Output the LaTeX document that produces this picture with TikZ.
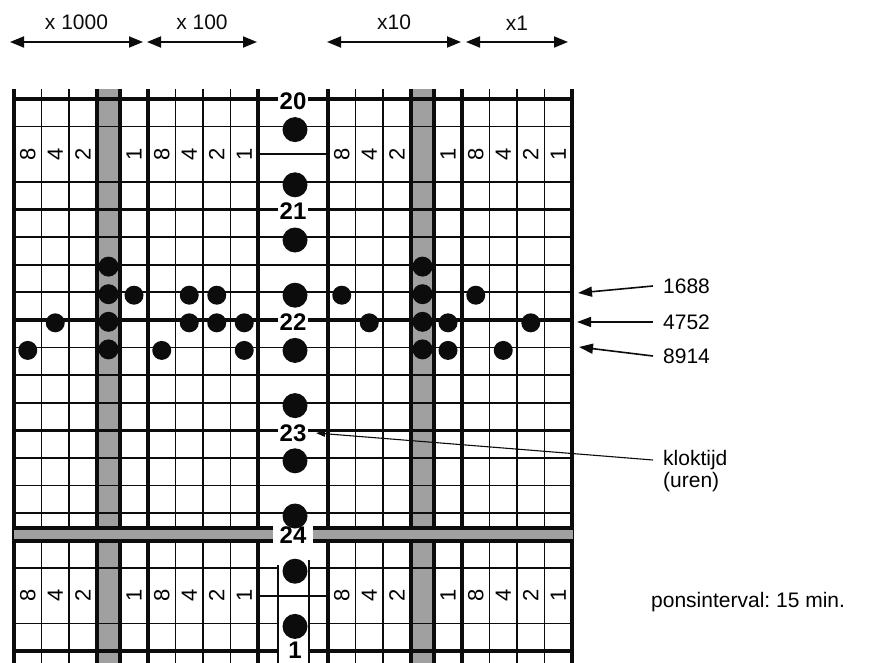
\documentclass[tikz,border=0pt]{standalone}
\usepackage{fontspec}
\setmainfont{Liberation Sans}
\frenchspacing
\usetikzlibrary{arrows.meta, positioning, calc}
\definecolor{ink}{RGB}{12,12,12}
\definecolor{stripgray}{RGB}{160,160,160}
\tikzset{
  rule/.style={line width=1.8pt, color=ink},
  heavyrule/.style={line width=3.4pt, color=ink},
  strip/.style={fill=stripgray},
  hole/.style={circle, fill=ink, inner sep=0pt, minimum size=19pt},
  feedhole/.style={circle, fill=ink, inner sep=0pt, minimum size=20pt},
  clockhole/.style={circle, fill=ink, inner sep=0pt, minimum size=25pt},
  bitlabel/.style={font=\fontsize{22}{22}\selectfont, rotate=90, inner sep=0pt},
  hourlabel/.style={font=\fontsize{24}{24}\selectfont\bfseries, fill=white,
    inner xsep=2pt, inner ysep=1pt},
  sidelabel/.style={font=\fontsize{21}{25}\selectfont, anchor=west,
    inner xsep=10pt, inner ysep=0pt},
  rangelabel/.style={font=\fontsize{21}{25}\selectfont, inner sep=0pt},
  rangearrow/.style={{Triangle[length=14pt, width=11pt]}-{Triangle[length=14pt, width=11pt]},
    line width=1.8pt, color=ink},
  arrow/.style={-{Triangle[length=14pt, width=10pt]}, line width=1.6pt, color=ink},
  thinarrow/.style={-{Triangle[length=9pt, width=6pt]}, line width=1.1pt, color=ink}
}

\begin{document}
\begin{tikzpicture}[x=1pt, y=-1pt]
  \useasboundingbox (0,0) rectangle (877,663);
  % Decade ranges above the tapes
  \coordinate (thA) at (10,42);  \coordinate (thB) at (143,42);
  \coordinate (huA) at (147,42); \coordinate (huB) at (257,42);
  \coordinate (teA) at (327,42); \coordinate (teB) at (461,42);
  \coordinate (unA) at (466,42); \coordinate (unB) at (568,42);
  \draw[rangearrow] (thA) -- (thB) node[midway, above=11pt, rangelabel] (lth) {x 1000};
  \draw[rangearrow] (huA) -- (huB) node[midway, above=11pt, rangelabel] (lhu) {x 100};
  \draw[rangearrow] (teA) -- (teB) node[midway, above=11pt, rangelabel] (lte) {x10};
  \draw[rangearrow] (unA) -- (unB) node[midway, above=11pt, rangelabel] (lun) {x1};
  % Vertical rulings and feed strips of both tapes
  \foreach \ox in {14,328}{
    \fill[strip] (\ox+83,89) rectangle (\ox+106,663);
    \foreach \dx in {27.5,55,161.5,189,216.5}
      \draw[rule] (\ox+\dx,89) -- (\ox+\dx,663);
    \foreach \dx in {0,83,106,134,244}
      \draw[heavyrule] (\ox+\dx,89) -- (\ox+\dx,663);
  }
  % Horizontal rulings (row k at y = 99 + 27.6k)
  \foreach \k in {1,3,5,6,7,9,10,11,13,14,15}
    \draw[rule] (14,{99+27.6*\k}) -- (573,{99+27.6*\k});
  \foreach \k in {0,4,8,12}
    \draw[heavyrule] (14,{99+27.6*\k}) -- (573,{99+27.6*\k});
  \foreach \k in {2,18}
    \draw[rule] (258,{99+27.6*\k}) -- (328,{99+27.6*\k});
  % Splice channel at the bottom
  \draw[rule] (278,565) -- (278,663);
  \draw[rule] (309,560) -- (309,663);
  \foreach \k in {17,19}{
    \draw[rule] (14,{99+27.6*\k}) -- (278,{99+27.6*\k});
    \draw[rule] (309,{99+27.6*\k}) -- (573,{99+27.6*\k});
  }
  \draw[heavyrule] (14,651) -- (278,651);
  \draw[heavyrule] (309,651) -- (573,651);
  % Day strip
  \foreach \xa/\xb in {14/273, 313/573}{
    \fill[strip] (\xa,528) rectangle (\xb,541);
    \draw[heavyrule] (\xa,528) -- (\xb,528);
    \draw[heavyrule] (\xa,541) -- (\xb,541);
  }
  % Bit weights
  \foreach \ox in {14,328}
    \foreach \yk/\r in {154.2/t, 595.8/b}
      \foreach \dx/\b [count=\i] in {13.75/8, 41.25/4, 69/2, 120/1,
                                     147.75/8, 175.25/4, 202.75/2, 230.25/1}
        \node[bitlabel] (bit\r\ox\i) at (\ox+\dx,\yk) {\b};
  % Clock hours
  \node[hourlabel] (h20) at (293,101) {20};
  \node[hourlabel] (h21) at (293,211) {21};
  \node[hourlabel] (h22) at (293,322) {22};
  \node[hourlabel] (h23) at (293,433) {23};
  \node[hourlabel, fill=none] (h24) at (293,535) {24};
  \node[hourlabel, fill=none] (h1) at (295,650) {1};
  \foreach \k in {1,3,...,19}
    \node[clockhole] (c\k) at (295,{99+27.6*\k+3}) {};
  % Feed holes
  \foreach \ox/\t in {14/L, 328/R}
    \foreach \k in {6,...,9}
      \node[feedhole] (f\t\k) at (\ox+94.5,{99+27.6*\k+2}) {};
  % Data holes: tape/column centre/row
  \foreach \t/\x/\k in {L/134/7, L/189.25/7, L/216.75/7,
                        L/55.25/8, L/189.25/8, L/216.75/8, L/244.25/8,
                        L/27.75/9, L/161.75/9, L/244.25/9,
                        R/341.75/7, R/475.75/7,
                        R/369.25/8, R/448/8, R/530.75/8,
                        R/448/9, R/503.25/9}
    \node[hole] (d\t\k-\x) at (\x,{99+27.6*\k+3}) {};
  % Read-out values
  \node[sidelabel] (n1688) at (653,286) {1688};
  \node[sidelabel] (n4752) at (653,322) {4752};
  \node[sidelabel] (n8914) at (653,356) {8914};
  \coordinate (t1688) at (578,293);
  \coordinate (t4752) at (577,322);
  \coordinate (t8914) at (579,347);
  \draw[arrow] (n1688.west) -- (t1688);
  \draw[arrow] (n4752.west) -- (t4752);
  \draw[arrow] (n8914.west) -- (t8914);
  % Clock time
  \node[sidelabel] (klok) at (653,460) {kloktijd};
  \node[sidelabel] (uren) at (653,482) {(uren)};
  \coordinate (t23) at (316,433);
  \draw[thinarrow] (klok.west) -- (t23);
  \node[sidelabel] (pons) at (641,602) {ponsinterval: 15 min.};
\end{tikzpicture}
\end{document}
